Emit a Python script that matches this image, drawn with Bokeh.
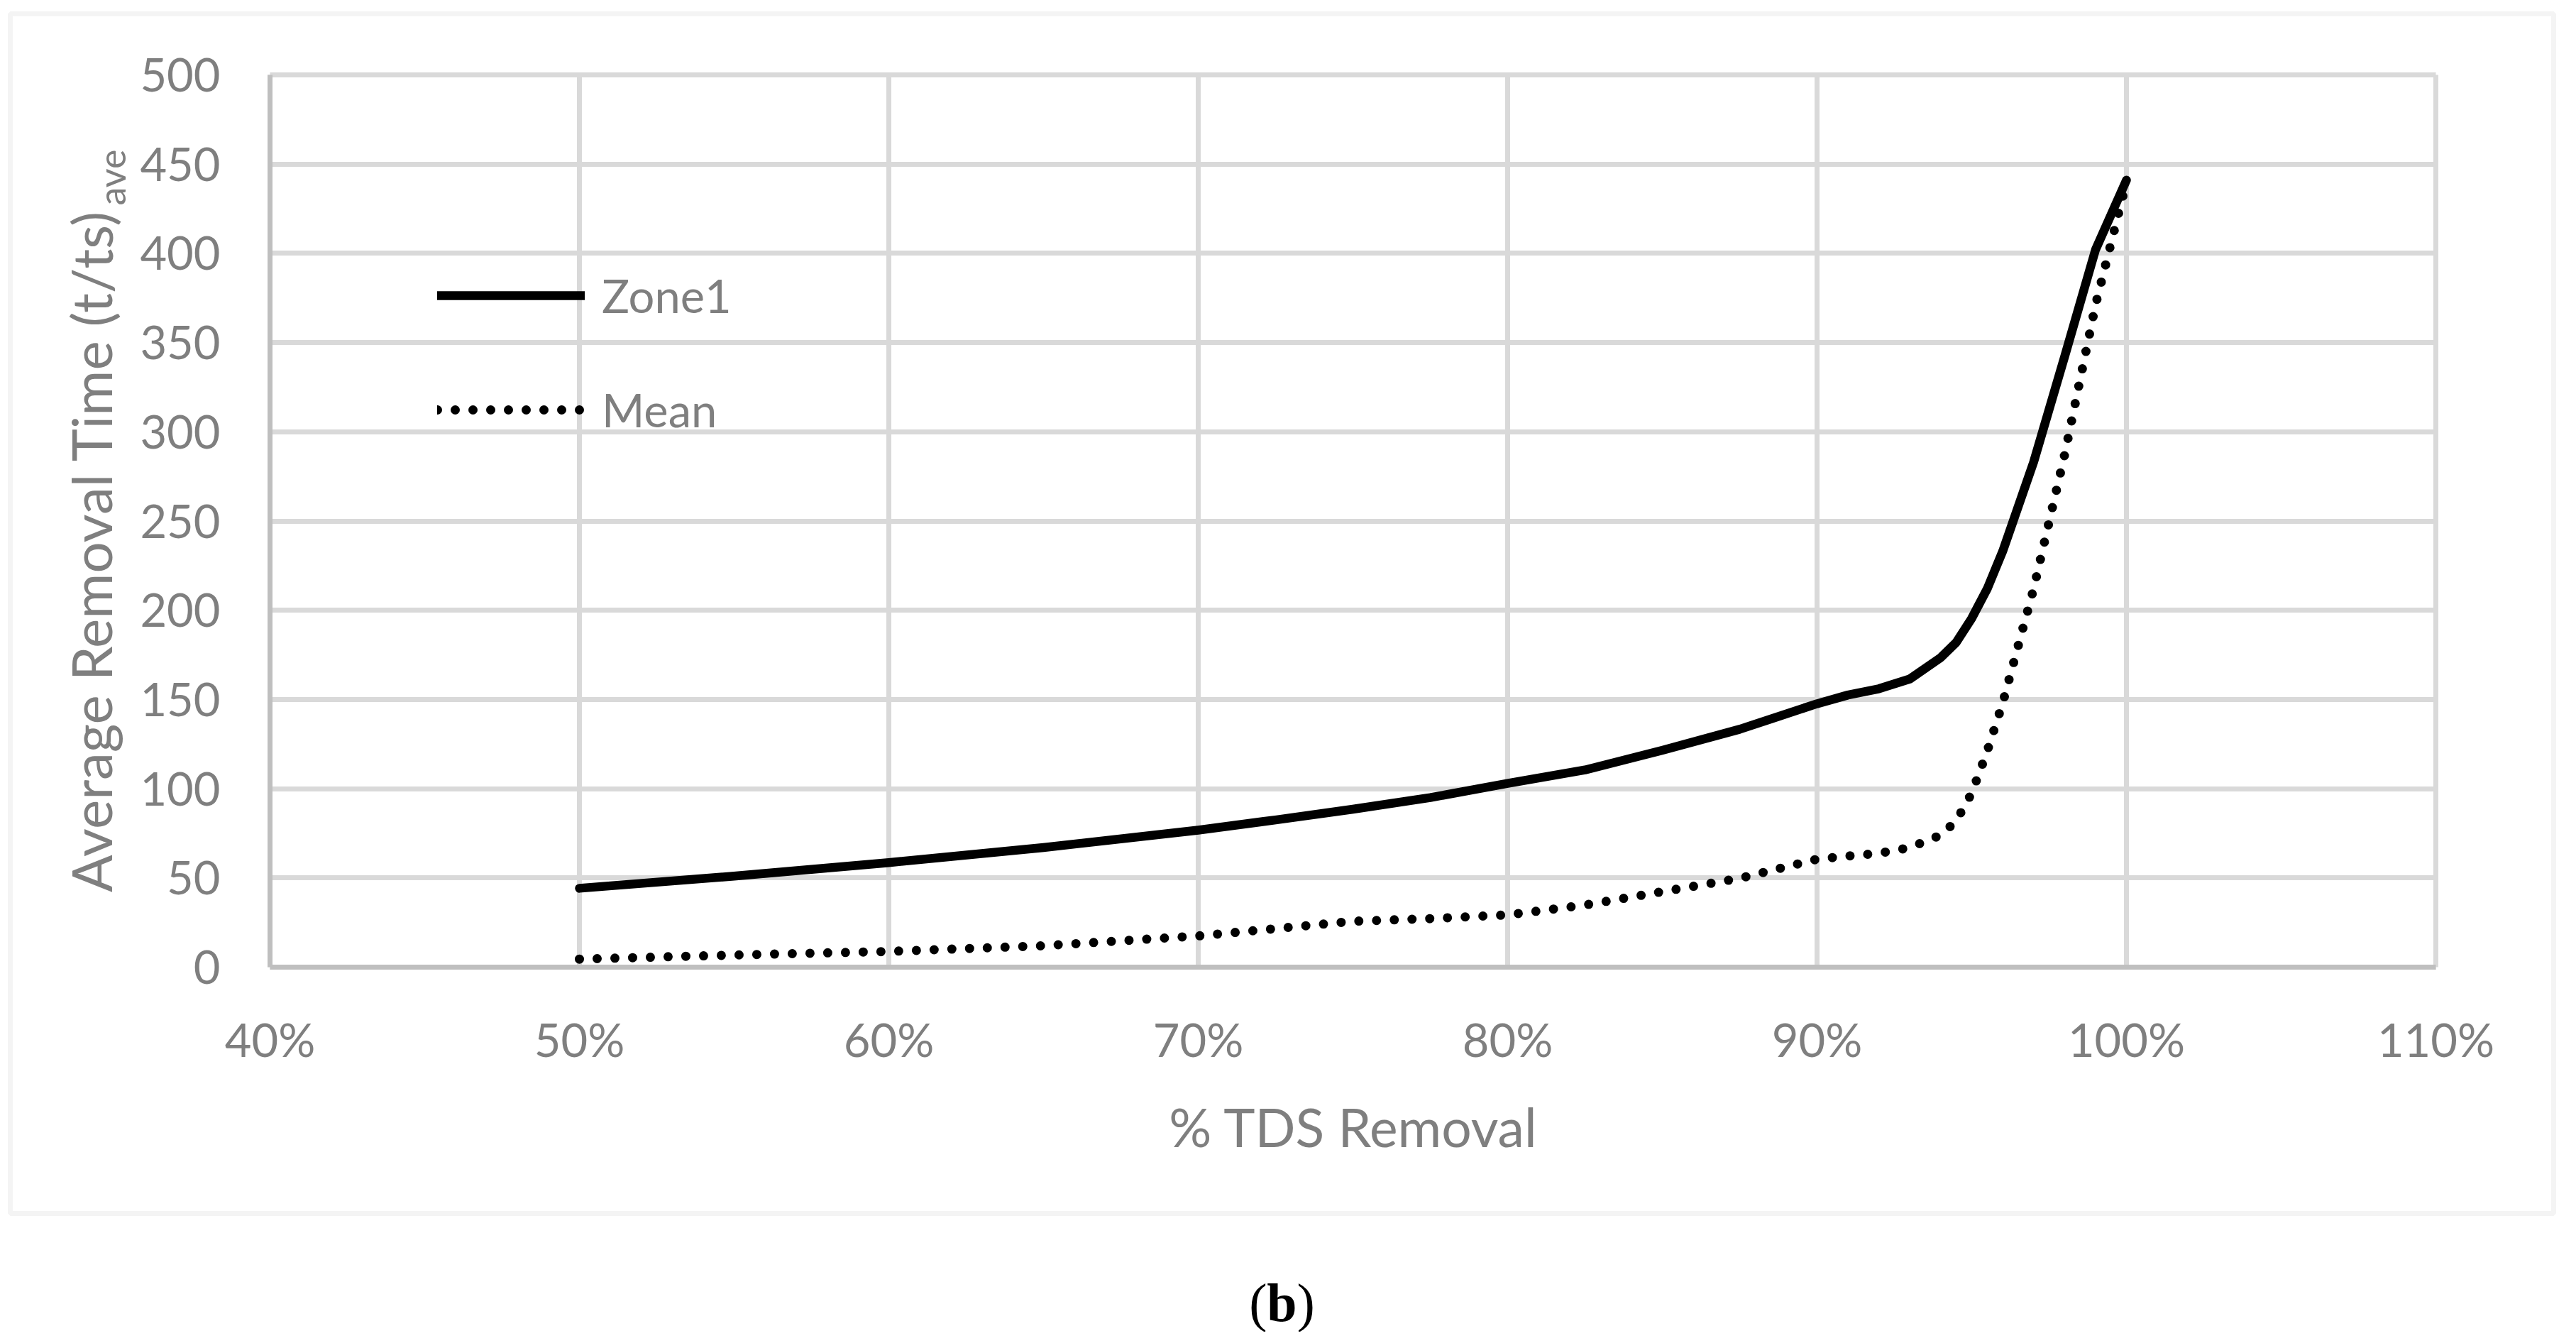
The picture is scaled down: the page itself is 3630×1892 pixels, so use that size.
from bokeh.plotting import figure
from bokeh.models import (Range1d, FixedTicker, Legend, LegendItem, Label,
                          BoxAnnotation, Grid)
from bokeh.embed import file_html
from bokeh.resources import INLINE

# ---- data ----
tds_removal_pct = [50, 55, 60, 65, 70, 72.5, 75, 77.5, 80, 82.5, 85, 87.5, 90,
                   91, 92, 93, 94, 94.5, 95, 95.5, 96, 97, 98, 99, 100]
zone1 = [44.2, 51, 58.6, 67, 76.8, 82.5, 88.5, 95, 103, 110.5, 121.5, 133.3, 147.6,
         152.5, 156, 161.5, 173.5, 182, 195.5, 212, 233, 283, 342, 402, 441]
mean = [4.5, 6.8, 8.8, 12, 17.5, 21.6, 25.7, 27.2, 29.3, 34.8, 42.3, 49.8, 60.5,
        62.3, 63.8, 67, 74, 82, 97.5, 121, 148, 212, 287, 371, 440]
series_names = ["Zone1", "Mean"]
x_ticks = [40, 50, 60, 70, 80, 90, 100, 110]
x_tick_labels = ["40%", "50%", "60%", "70%", "80%", "90%", "100%", "110%"]
y_ticks = [0, 50, 100, 150, 200, 250, 300, 350, 400, 450, 500]
x_title = "% TDS Removal"
y_title = "Average Removal Time (t/ts)"
y_title_sub = "ave"
caption = ["(", "b", ")"]

GREY_TXT = "#7f7f7f"
GRID = "#d9d9d9"
AXIS = "#bfbfbf"
FONT = "Lato"
SERIF = "Liberation Serif"

# ---- layout (canvas pixels; frame = whole canvas) ----
W, H = 3614, 1876
BOX_L, BOX_R, BOX_T, BOX_B = 14, 3598, 19, 1709   # outer chart box
PA_L, PA_R, PA_T, PA_B = 380, 3432, 105, 1362     # plot area
xmin, xmax = x_ticks[0], x_ticks[-1]
ymin, ymax = y_ticks[0], y_ticks[-1]
kx = (PA_R - PA_L) / (xmax - xmin)
ky = (PA_B - PA_T) / (ymax - ymin)
x_range = Range1d(xmin - PA_L / kx, xmax + (W - PA_R) / kx)
y_range = Range1d(ymin - (H - PA_B) / ky, ymax + PA_T / ky)

p = figure(width=W, height=H, output_backend="svg", toolbar_location=None,
           x_range=x_range, y_range=y_range,
           min_border_left=0, min_border_right=0, min_border_top=0,
           min_border_bottom=0)
p.background_fill_color = "white"
p.border_fill_color = "white"
p.outline_line_color = None

# outer chart box
p.add_layout(BoxAnnotation(left=BOX_L, right=BOX_R, top=BOX_T, bottom=BOX_B,
                           left_units="canvas", right_units="canvas",
                           top_units="canvas", bottom_units="canvas",
                           fill_alpha=0, line_color=GRID, line_width=7,
                           level="underlay"))

# grids limited to the plot area
has_cross = "cross_bounds" in Grid.properties()
p.xgrid.ticker = FixedTicker(ticks=x_ticks)
p.ygrid.ticker = FixedTicker(ticks=y_ticks)
for g in (p.xgrid, p.ygrid):
    g.grid_line_color = GRID
    g.grid_line_width = 7
p.xgrid.bounds = (xmin, xmax)
p.ygrid.bounds = (ymin, ymax)
if has_cross:
    p.xgrid.cross_bounds = (ymin, ymax)
    p.ygrid.cross_bounds = (xmin, xmax)
else:
    p.xgrid.visible = False
    p.ygrid.visible = False
    p.segment(x0=x_ticks, x1=x_ticks, y0=[ymin] * len(x_ticks), y1=[ymax] * len(x_ticks),
              line_color=GRID, line_width=7)
    p.segment(x0=[xmin] * len(y_ticks), x1=[xmax] * len(y_ticks), y0=y_ticks, y1=y_ticks,
              line_color=GRID, line_width=7)

# axes placed at the plot-area edges
p.xaxis.ticker = FixedTicker(ticks=x_ticks)
p.xaxis.major_label_overrides = {t: l for t, l in zip(x_ticks, x_tick_labels)}
p.yaxis.ticker = FixedTicker(ticks=y_ticks)
p.xaxis.fixed_location = ymin
p.yaxis.fixed_location = xmin
p.xaxis.bounds = (xmin, xmax)
p.yaxis.bounds = (ymin, ymax)
for ax in (p.xaxis, p.yaxis):
    ax.axis_line_color = AXIS
    ax.axis_line_width = 7
    ax.major_tick_line_color = None
    ax.minor_tick_line_color = None
    ax.major_tick_out = 0
    ax.major_tick_in = 0
    ax.major_label_text_font = FONT
    ax.major_label_text_font_size = "65px"
    ax.major_label_text_color = GREY_TXT
p.yaxis.major_label_standoff = 70
p.xaxis.major_label_standoff = 62

# lines
r1 = p.line(tds_removal_pct, zone1, line_color="black", line_width=12.5,
            line_cap="round", line_join="round")
r2 = p.line(tds_removal_pct, mean, line_color="black", line_width=13,
            line_dash="0 25", line_cap="round", line_join="round")

legend = Legend(items=[LegendItem(label=series_names[0], renderers=[r1]),
                       LegendItem(label=series_names[1], renderers=[r2])],
                location=(616, H - 617), orientation="vertical",
                glyph_width=208, glyph_height=80, label_height=80,
                label_standoff=24, spacing=81, padding=0, margin=0,
                border_line_color=None, background_fill_alpha=0,
                label_text_font=FONT, label_text_font_size="65px",
                label_text_color=GREY_TXT)
p.add_layout(legend, "center")

# axis titles
p.add_layout(Label(x=128, y=295, x_units="canvas", y_units="canvas", text=y_title,
                   angle=1.5707963, text_align="right", text_baseline="alphabetic",
                   text_font=FONT, text_font_size="78px", text_color=GREY_TXT))
p.add_layout(Label(x=156, y=289, x_units="canvas", y_units="canvas", text=y_title_sub,
                   angle=1.5707963, text_align="left", text_baseline="alphabetic",
                   text_font=FONT, text_font_size="52px", text_color=GREY_TXT))
p.add_layout(Label(x=1907, y=1586, x_units="canvas", y_units="canvas", text=x_title,
                   text_align="center", text_baseline="alphabetic",
                   text_font=FONT, text_font_size="75px", text_color=GREY_TXT))

# caption (b) below the chart box
cx, cy = 1806, 1834
p.add_layout(Label(x=cx - 21, y=cy, x_units="canvas", y_units="canvas", text=caption[0],
                   text_align="right", text_baseline="alphabetic",
                   text_font=SERIF, text_font_size="76px", text_color="black"))
p.add_layout(Label(x=cx, y=cy, x_units="canvas", y_units="canvas", text=caption[1],
                   text_align="center", text_baseline="alphabetic", text_font_style="bold",
                   text_font=SERIF, text_font_size="76px", text_color="black"))
p.add_layout(Label(x=cx + 21, y=cy, x_units="canvas", y_units="canvas", text=caption[2],
                   text_align="left", text_baseline="alphabetic",
                   text_font=SERIF, text_font_size="76px", text_color="black"))

open("out.html", "w").write(file_html(p, INLINE))
